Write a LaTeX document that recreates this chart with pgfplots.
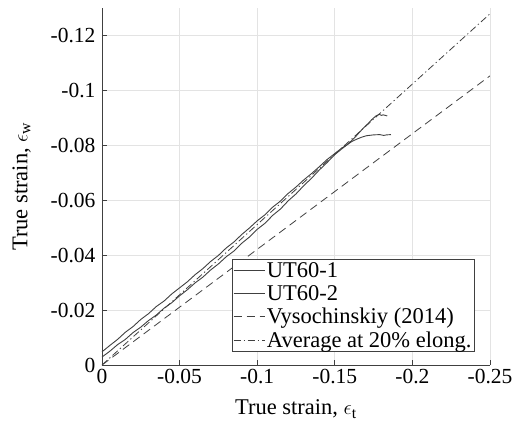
\documentclass[border=0pt]{standalone}
\usepackage{fontspec}
\setmainfont{Liberation Serif}
\usepackage{pgfplots}
\pgfplotsset{compat=1.18}
\definecolor{ln}{HTML}{404040}
\definecolor{gridc}{HTML}{E3E3E3}
\definecolor{axc}{HTML}{404040}
\begin{document}
\begin{tikzpicture}
\begin{axis}[
  name=ax,
  scale only axis,
  width=388pt, height=357pt,
  x dir=reverse, y dir=reverse,
  xmin=-0.25, xmax=0, ymin=-0.13, ymax=0,
  axis x line*=bottom, axis y line*=left,
  axis line style={axc, line width=0.8pt, -},
  tick style={axc, line width=0.6pt},
  tick align=inside,
  major tick length=5pt,
  xtick={0,-0.05,-0.1,-0.15,-0.2,-0.25},
  ytick={0,-0.02,-0.04,-0.06,-0.08,-0.1,-0.12},
  /pgf/number format/assume math mode=true,
  /pgf/number format/fixed,
  /pgf/number format/precision=2,
  grid=major,
  major grid style={gridc, line width=0.6pt},
  tick label style={font=\fontsize{21.5}{24}\selectfont, text=black},
  xticklabel style={yshift=-1pt},
  yticklabel style={xshift=-3pt},
  label style={font=\fontsize{22.5}{26}\selectfont},
  xlabel style={yshift=-9pt},
  ylabel style={yshift=13pt},
  xlabel={True strain, $\epsilon_{\mathrm{t}}$},
  ylabel={True strain, $\epsilon_{\mathrm{w}}$},
  legend cell align=left,
  legend style={at={(0.961,0.036)}, anchor=south east, draw=axc, line width=0.8pt,
    font=\fontsize{22.5}{24}\selectfont, inner sep=1pt, row sep=2.5pt,
    fill=white},
  legend image code/.code={\draw[#1, line width=0.9pt] (0pt,0pt) -- (31pt,0pt);},
]
\addplot[ln, line width=0.9pt] coordinates {
(0,-0.0048) (-0.005,-0.0071) (-0.01,-0.0093) (-0.015,-0.0119) (-0.02,-0.0140)
(-0.025,-0.0166) (-0.03,-0.0187) (-0.035,-0.0213) (-0.04,-0.0233) (-0.045,-0.0259)
(-0.05,-0.0281) (-0.055,-0.0303) (-0.06,-0.0329) (-0.065,-0.0351) (-0.07,-0.0377)
(-0.075,-0.0399) (-0.08,-0.0426) (-0.085,-0.0448) (-0.09,-0.0475) (-0.095,-0.0499)
(-0.10,-0.0525) (-0.105,-0.0547) (-0.11,-0.0575) (-0.115,-0.0597) (-0.12,-0.0625)
(-0.125,-0.0648) (-0.13,-0.0674) (-0.135,-0.0697) (-0.14,-0.0722) (-0.145,-0.0748)
(-0.15,-0.0770) (-0.1545,-0.0790) (-0.1577,-0.0801) (-0.161,-0.0814) (-0.164,-0.0822)
(-0.1675,-0.0830) (-0.1705,-0.0835) (-0.175,-0.0838) (-0.179,-0.0839) (-0.1815,-0.0836)
(-0.1834,-0.0838) (-0.1862,-0.0839)
};
\addlegendentry{UT60-1}
\addplot[ln, line width=0.9pt] coordinates {
(0,-0.0029) (-0.005,-0.0050) (-0.01,-0.0074) (-0.015,-0.0093) (-0.02,-0.0118)
(-0.025,-0.0138) (-0.03,-0.0162) (-0.035,-0.0182) (-0.04,-0.0207) (-0.045,-0.0227)
(-0.05,-0.0252) (-0.055,-0.0274) (-0.06,-0.0299) (-0.065,-0.0320) (-0.07,-0.0346)
(-0.075,-0.0368) (-0.08,-0.0394) (-0.085,-0.0415) (-0.09,-0.0443) (-0.095,-0.0466)
(-0.10,-0.0494) (-0.105,-0.0516) (-0.11,-0.0545) (-0.115,-0.0568) (-0.12,-0.0598)
(-0.125,-0.0623) (-0.13,-0.0653) (-0.135,-0.0680) (-0.14,-0.0710) (-0.145,-0.0737)
(-0.15,-0.0766) (-0.1545,-0.0787) (-0.1577,-0.0801) (-0.161,-0.0818) (-0.1635,-0.0832)
(-0.1663,-0.0850) (-0.169,-0.0866) (-0.1716,-0.0880) (-0.1737,-0.0893) (-0.1765,-0.0907)
(-0.1787,-0.0913) (-0.1800,-0.0909) (-0.1812,-0.0911) (-0.1838,-0.0907)
};
\addlegendentry{UT60-2}
\addplot[ln, line width=0.8pt, dash pattern=on 8pt off 5pt] coordinates {(0,0) (-0.25,-0.1053)};
\addlegendentry{Vysochinskiy (2014)}
\addplot[ln, line width=0.8pt, dash pattern=on 7pt off 3pt on 1.2pt off 3pt] coordinates {(0,0) (-0.25,-0.1279)};
\addlegendentry{Average at 20\% elong.}
\end{axis}
\pgfresetboundingbox
\path ([shift={(-102pt,-69pt)}]ax.south west) rectangle ([shift={(29pt,8pt)}]ax.north east);
\end{tikzpicture}
\end{document}
